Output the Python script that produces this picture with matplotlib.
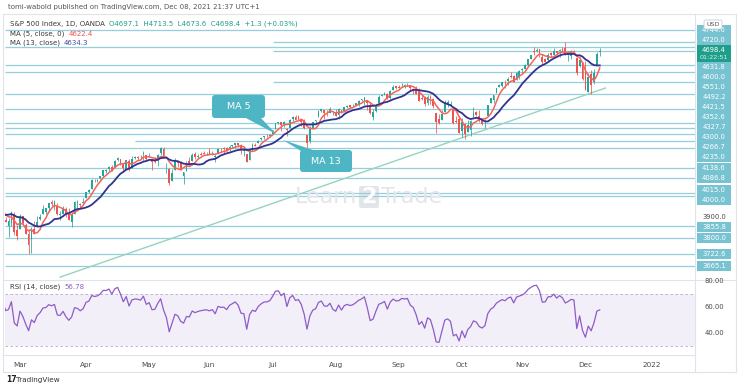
import numpy as np
import pandas as pd
import matplotlib
matplotlib.use("Agg")
import matplotlib.pyplot as plt
from matplotlib.patches import Rectangle, Polygon, FancyBboxPatch
from matplotlib.lines import Line2D
from matplotlib.transforms import IdentityTransform

# ---------------- data (SPX500 CFD, daily, weekdays) ----------------
start_date = "2021-01-04"
end_date = "2021-12-08"

opens = [
    # Jan
    3764.6, 3698.0, 3712.0, 3764.7, 3815.0, 3803.0, 3801.6, 3802.0, 3814.0, 3788.0,
    3768.0, 3781.9, 3816.2, 3857.5, 3844.2, 3851.7, 3862.96, 3836.8, 3755.8, 3778.1,
    # Feb
    3731.2, 3791.8, 3840.3, 3836.7, 3878.3, 3892.6, 3910.5, 3920.8, 3916.4, 3911.7,
    3935.0, 3939.6, 3918.5, 3915.9, 3921.2, 3885.6, 3857.1, 3873.7, 3915.8, 3839.7,
    # Mar
    3842.5, 3903.6, 3863.99, 3818.5, 3793.6, 3844.4, 3851.9, 3891.99, 3915.5, 3924.5,
    3942.96, 3973.6, 3949.6, 3953.5, 3913.1, 3916.5, 3937.6, 3919.9, 3879.3, 3917.1,
    3969.3, 3963.3, 3967.3,
    # Apr
    3992.8, 4020.0, 4034.4, 4075.6, 4074.3, 4089.95, 4096.1, 4124.7, 4130.1, 4141.6,
    4139.8, 4174.1, 4179.8, 4159.2, 4128.4, 4170.5, 4138.8, 4185.0, 4188.3, 4185.1,
    4206.1, 4198.1,
    # May
    4191.98, 4179.0, 4177.1, 4169.1, 4210.3, 4228.3, 4150.3, 4130.6, 4074.99, 4129.6,
    4169.9, 4165.9, 4098.5, 4121.97, 4168.6, 4170.2, 4205.9, 4191.6, 4201.9, 4210.8,
    4204.0,
    # Jun
    4216.5, 4206.8, 4191.4, 4206.1, 4229.3, 4233.8, 4232.99, 4228.6, 4242.9, 4248.3,
    4255.3, 4248.9, 4220.4, 4204.8, 4173.4, 4224.6, 4249.3, 4256.97, 4274.5, 4284.9,
    4293.2, 4290.7,
    # Jul
    4300.7, 4326.6, 4352.0, 4356.5, 4351.0, 4321.1, 4329.4, 4372.4, 4381.1, 4380.1,
    4369.0, 4367.4, 4296.4, 4265.1, 4331.1, 4361.3, 4381.2, 4409.6, 4416.4, 4402.95,
    4403.6, 4395.1,
    # Aug
    4406.9, 4392.7, 4415.95, 4408.9, 4429.1, 4437.8, 4435.8, 4442.2, 4446.1, 4464.8,
    4461.7, 4462.1, 4440.9, 4382.4, 4410.6, 4450.3, 4484.4, 4490.5, 4493.8, 4474.1,
    4513.8, 4529.8,
    # Sep
    4528.8, 4534.5, 4532.4, 4536.0, 4535.4, 4518.1, 4513.0, 4506.9, 4474.8, 4479.3,
    4447.5, 4477.1, 4469.7, 4402.95, 4374.5, 4367.4, 4406.8, 4438.0, 4442.1, 4419.5,
    4362.4, 4370.7,
    # Oct
    4317.2, 4348.8, 4309.9, 4319.6, 4383.7, 4406.5, 4385.4, 4368.3, 4358.0, 4386.8,
    4447.7, 4463.7, 4497.3, 4524.4, 4532.2, 4546.1, 4553.7, 4578.7, 4580.2, 4562.8,
    4572.9,
    # Nov
    4610.6, 4613.3, 4630.7, 4662.9, 4699.3, 4701.5, 4707.3, 4670.3, 4659.4, 4655.2,
    4689.3, 4679.4, 4701.5, 4700.7, 4708.4, 4712.0, 4678.5, 4675.8, 4701.0, 4664.6,
    4628.8, 4640.2,
    # Dec
    4602.8, 4504.7, 4589.5, 4548.4, 4631.97, 4697.1,
]

highs = [
    3769.99, 3737.8, 3783.0, 3811.6, 3826.7, 3817.9, 3810.8, 3820.96, 3823.6, 3788.0,
    3790.0, 3804.5, 3859.8, 3861.5, 3852.3, 3859.2, 3870.9, 3836.8, 3830.5, 3778.1,
    3784.3, 3843.1, 3847.5, 3872.4, 3894.6, 3915.8, 3918.4, 3931.5, 3925.99, 3937.2,
    3950.4, 3950.4, 3933.6, 3921.98, 3930.4, 3902.9, 3895.98, 3928.7, 3925.02, 3861.1,
    3914.5, 3906.4, 3874.5, 3843.7, 3851.7, 3881.1, 3903.8, 3917.4, 3960.3, 3944.99,
    3970.1, 3981.04, 3983.9, 3969.6, 3930.1, 3955.3, 3949.1, 3942.1, 3919.5, 3978.2,
    3981.8, 3968.0, 3994.4,
    4020.6, 4035.0, 4083.4, 4086.2, 4083.1, 4098.2, 4129.5, 4131.8, 4148.0, 4151.7,
    4173.5, 4191.3, 4180.8, 4159.2, 4175.0, 4179.6, 4194.2, 4194.2, 4193.4, 4201.5,
    4218.8, 4198.1,
    4209.4, 4179.0, 4187.7, 4202.7, 4238.0, 4236.4, 4162.0, 4134.7, 4131.6, 4183.1,
    4171.9, 4169.1, 4116.9, 4172.8, 4188.7, 4209.5, 4213.4, 4202.6, 4213.4, 4218.4,
    4212.0,
    4234.1, 4217.4, 4204.4, 4233.5, 4232.3, 4236.7, 4237.1, 4249.7, 4248.4, 4255.6,
    4257.2, 4251.9, 4232.3, 4204.8, 4226.2, 4255.8, 4256.6, 4271.3, 4286.1, 4292.1,
    4300.5, 4302.4,
    4320.7, 4355.4, 4360.0, 4356.5, 4361.9, 4330.9, 4372.0, 4386.7, 4393.7, 4393.2,
    4369.0, 4375.1, 4296.4, 4336.8, 4359.7, 4369.9, 4415.2, 4422.7, 4416.4, 4415.5,
    4429.97, 4412.3,
    4422.2, 4423.8, 4416.2, 4429.8, 4440.8, 4439.4, 4445.2, 4449.4, 4461.8, 4468.4,
    4480.3, 4462.1, 4454.3, 4418.6, 4444.4, 4489.9, 4492.8, 4501.7, 4495.9, 4513.3,
    4537.4, 4531.4,
    4537.1, 4545.9, 4541.5, 4545.0, 4535.4, 4521.8, 4529.9, 4520.5, 4492.99, 4485.7,
    4486.9, 4485.9, 4471.5, 4402.95, 4394.9, 4416.8, 4465.4, 4463.1, 4457.3, 4419.5,
    4385.6, 4382.6,
    4375.2, 4355.5, 4369.2, 4365.6, 4429.97, 4412.0, 4415.9, 4374.9, 4372.9, 4439.7,
    4475.8, 4488.8, 4520.4, 4540.9, 4551.4, 4559.7, 4572.6, 4598.5, 4584.6, 4597.6,
    4608.1,
    4620.3, 4635.2, 4663.5, 4683.0, 4718.5, 4714.9, 4708.5, 4684.9, 4664.6, 4688.5,
    4697.4, 4714.95, 4701.5, 4708.8, 4717.8, 4743.8, 4699.4, 4702.9, 4707.0, 4664.6,
    4672.95, 4646.0,
    4652.9, 4595.5, 4608.0, 4612.6, 4694.0, 4713.5,
]

lows = [
    3662.7, 3695.1, 3705.3, 3764.7, 3783.6, 3789.0, 3776.5, 3791.5, 3792.9, 3749.6,
    3765.0, 3780.4, 3816.2, 3845.1, 3830.4, 3797.2, 3847.8, 3732.5, 3755.8, 3694.1,
    3725.6, 3791.8, 3816.7, 3836.7, 3874.9, 3892.6, 3902.6, 3884.9, 3890.4, 3905.8,
    3931.0, 3923.9, 3900.4, 3885.03, 3903.1, 3874.7, 3805.6, 3859.6, 3814.04, 3789.5,
    3842.5, 3868.6, 3818.9, 3723.3, 3730.2, 3819.3, 3851.9, 3885.7, 3915.5, 3915.2,
    3923.5, 3953.4, 3935.7, 3910.9, 3886.8, 3914.2, 3901.6, 3889.1, 3853.5, 3917.1,
    3943.3, 3944.4, 3966.98,
    3992.8, 4015.0, 4034.4, 4068.1, 4068.3, 4082.5, 4095.5, 4114.8, 4124.4, 4120.9,
    4139.8, 4170.8, 4150.5, 4118.4, 4126.4, 4123.7, 4138.8, 4182.4, 4176.2, 4181.8,
    4176.8, 4174.9,
    4188.0, 4128.6, 4158.9, 4147.3, 4201.6, 4188.1, 4111.5, 4056.9, 4074.99, 4129.6,
    4142.7, 4125.99, 4061.4, 4121.97, 4151.7, 4170.2, 4182.5, 4184.1, 4197.8, 4203.6,
    4198.0,
    4197.6, 4198.3, 4167.9, 4206.1, 4215.7, 4208.4, 4218.7, 4220.3, 4232.99, 4234.1,
    4238.4, 4202.5, 4196.1, 4164.4, 4173.4, 4217.3, 4241.4, 4256.97, 4271.2, 4274.7,
    4287.0, 4287.96,
    4300.7, 4326.6, 4348.0, 4314.4, 4335.3, 4289.4, 4329.2, 4364.0, 4368.3, 4366.9,
    4340.7, 4322.5, 4233.1, 4259.2, 4331.1, 4350.1, 4381.2, 4405.5, 4372.5, 4387.0,
    4403.6, 4389.7,
    4384.8, 4373.0, 4400.2, 4408.9, 4424.2, 4424.7, 4430.0, 4436.4, 4435.5, 4460.8,
    4437.7, 4417.8, 4397.6, 4367.7, 4406.8, 4450.3, 4482.3, 4485.9, 4468.99, 4469.9,
    4513.8, 4515.8,
    4522.0, 4524.7, 4521.9, 4530.0, 4513.0, 4493.95, 4492.1, 4457.7, 4462.0, 4435.5,
    4438.4, 4443.8, 4427.8, 4305.9, 4347.96, 4367.4, 4406.8, 4430.3, 4436.2, 4346.3,
    4355.1, 4306.2,
    4288.5, 4278.9, 4309.9, 4290.5, 4383.7, 4386.2, 4360.6, 4342.1, 4329.9, 4386.8,
    4447.7, 4447.5, 4496.4, 4524.4, 4526.9, 4524.0, 4537.4, 4569.2, 4551.7, 4562.8,
    4567.6,
    4595.1, 4613.3, 4621.2, 4662.6, 4681.3, 4694.4, 4670.9, 4630.9, 4648.3, 4650.4,
    4672.9, 4679.4, 4684.4, 4672.8, 4694.2, 4682.2, 4652.7, 4659.9, 4695.0, 4585.4,
    4625.3, 4560.0,
    4510.3, 4504.7, 4495.1, 4540.5, 4631.97, 4673.6,
]

closes = [
    3700.7, 3726.9, 3748.1, 3803.8, 3824.7, 3799.6, 3801.2, 3809.8, 3795.5, 3768.3,
    3782.0, 3798.9, 3851.9, 3853.1, 3841.5, 3855.4, 3849.6, 3750.8, 3787.4, 3714.2,
    3773.9, 3826.3, 3830.2, 3871.7, 3886.8, 3915.6, 3911.2, 3909.9, 3916.4, 3934.8,
    3944.0, 3932.6, 3931.3, 3913.97, 3906.7, 3876.5, 3881.4, 3925.4, 3829.3, 3811.2,
    3901.8, 3870.3, 3819.7, 3768.5, 3841.9, 3821.4, 3875.4, 3898.8, 3939.3, 3943.3,
    3968.9, 3962.7, 3974.1, 3915.5, 3913.1, 3940.6, 3910.5, 3889.1, 3909.5, 3974.5,
    3971.1, 3958.6, 3972.9,
    4019.9, 4030.0, 4077.9, 4073.9, 4079.9, 4097.2, 4128.8, 4127.99, 4141.6, 4124.7,
    4170.4, 4185.5, 4163.3, 4134.9, 4173.4, 4134.98, 4180.2, 4187.6, 4186.7, 4183.2,
    4211.5, 4181.2,
    4192.7, 4164.7, 4167.6, 4201.6, 4232.6, 4188.4, 4152.1, 4063.0, 4112.5, 4173.9,
    4163.3, 4127.8, 4115.7, 4159.1, 4155.9, 4197.1, 4188.1, 4195.99, 4200.9, 4204.1,
    4206.0,
    4202.0, 4208.1, 4192.9, 4229.9, 4226.5, 4227.3, 4219.6, 4239.2, 4247.4, 4255.2,
    4246.6, 4223.7, 4221.9, 4166.5, 4224.8, 4246.4, 4241.8, 4266.5, 4280.7, 4290.6,
    4291.8, 4297.5,
    4319.9, 4352.3, 4356.0, 4343.5, 4358.1, 4320.8, 4369.6, 4384.6, 4369.2, 4374.3,
    4360.0, 4327.2, 4258.5, 4323.1, 4358.7, 4367.5, 4411.8, 4422.3, 4401.5, 4400.6,
    4419.2, 4395.3,
    4387.2, 4423.2, 4402.7, 4429.1, 4436.5, 4432.4, 4436.8, 4447.7, 4460.8, 4468.0,
    4479.7, 4448.1, 4400.3, 4405.8, 4441.7, 4479.5, 4486.2, 4496.2, 4470.0, 4509.4,
    4528.8, 4522.7,
    4524.1, 4537.0, 4535.4, 4538.0, 4520.0, 4514.1, 4493.3, 4458.6, 4468.7, 4443.1,
    4480.7, 4473.8, 4432.99, 4357.7, 4354.2, 4395.6, 4448.98, 4455.5, 4443.1, 4352.6,
    4359.5, 4307.5,
    4357.0, 4300.5, 4345.7, 4363.6, 4399.8, 4391.3, 4361.2, 4350.7, 4363.8, 4438.3,
    4471.4, 4486.5, 4519.6, 4536.2, 4549.8, 4544.9, 4566.5, 4574.8, 4551.7, 4596.4,
    4605.4,
    4613.7, 4630.7, 4660.6, 4680.1, 4697.5, 4701.7, 4685.3, 4646.7, 4649.3, 4682.9,
    4682.8, 4700.9, 4688.7, 4704.5, 4697.96, 4682.9, 4690.7, 4701.5, 4700.0, 4594.6,
    4655.3, 4567.0,
    4513.0, 4577.1, 4538.4, 4591.7, 4686.8, 4698.4,
]

# horizontal support / resistance levels drawn on the chart (price, start date)
level_prices = [4802.0, 4744.6, 4720.0, 4698.4, 4631.8, 4600.0, 4551.0, 4492.2,
                4421.5, 4352.6, 4327.7, 4300.0, 4266.7, 4235.0, 4138.6, 4086.8,
                4015.0, 4000.0, 3855.8, 3800.0, 3722.6, 3665.1]
level_starts = [None, "2021-07-01", None, "2021-07-01", None, None, "2021-07-01", None,
                None, None, None, None, "2021-04-26", None, None, None,
                None, None, None, None, None, None]
label_prices = [4744.6, 4720.0, 4631.8, 4600.0, 4551.0, 4492.2, 4421.5, 4352.6,
                4327.7, 4300.0, 4266.7, 4235.0, 4138.6, 4086.8, 4015.0, 4000.0,
                3855.8, 3800.0, 3722.6, 3665.1]
last_price = 4698.4
countdown = "01:22:51"
plain_ticks = [3900.0]

trend_dates = ["2021-03-19", "2021-12-10"]
trend_prices = [3612.0, 4522.0]

month_labels = ["Mar", "Apr", "May", "Jun", "Jul", "Aug", "Sep", "Oct", "Nov", "Dec", "2022"]
rsi_ticks = [80, 60, 40]

title_text = "tomi-wabold published on TradingView.com, Dec 08, 2021 21:37 UTC+1"
legend_name = "S&P 500 Index, 1D, OANDA"
legend_ohlc = "O4697.1  H4713.5  L4673.6  C4698.4  +1.3 (+0.03%)"
ma5_text, ma5_val = "MA (5, close, 0)", "4622.4"
ma13_text, ma13_val = "MA (13, close)", "4634.3"
rsi_text, rsi_val = "RSI (14, close)", "56.78"

# ---------------- styling ----------------
W, H = 740, 390
UP, DN = "#26a69a", "#ef5350"
MA5_C, MA13_C = "#f4645a", "#33338f"
LVL_C = "#94cfdb"
LBL_C = "#78c3d2"
RSI_C = "#8e5cc6"
BORDER = "#e0e3eb"

plt.rcParams["font.family"] = ["DejaVu Sans"]

fig = plt.figure(figsize=(W / 100, H / 100), dpi=100)
fig.patch.set_facecolor("white")


def fr(x0, y0, x1, y1):
    """pixel box (top-left origin) -> figure fraction rect"""
    return [x0 / W, 1 - y1 / H, (x1 - x0) / W, (y1 - y0) / H]


axis_dates = pd.bdate_range(start_date, "2022-02-28")
dates = pd.bdate_range(start_date, end_date)
n = len(dates)
assert n == len(opens) == len(highs) == len(lows) == len(closes)
pos = {d: i for i, d in enumerate(axis_dates)}

o = np.array(opens); h = np.array(highs); l = np.array(lows); c = np.array(closes)
x = np.arange(n)

mar1 = pos[pd.Timestamp("2021-03-01")]
px_per_bar = 2.87
xl0 = mar1 - (20 - 5) / px_per_bar
xl1 = mar1 + (695 - 20) / px_per_bar

ax = fig.add_axes(fr(5, 14, 695, 280))
rx = fig.add_axes(fr(5, 280, 695, 355), sharex=ax)
for a in (ax, rx):
    a.set_facecolor("none")
    for s in a.spines.values():
        s.set_visible(False)
    a.tick_params(left=False, right=False, bottom=False, top=False,
                  labelleft=False, labelbottom=False)

ax.set_xlim(xl0, xl1)
ax.set_ylim(3598, 4878)

# levels
for p, s in zip(level_prices, level_starts):
    xs = pos[pd.Timestamp(s)] if s else xl0
    ax.hlines(p, xs, xl1, color=LVL_C, lw=0.9, zorder=1)

# trend line
tx = [pos[pd.Timestamp(d)] for d in trend_dates]
ax.plot(tx, trend_prices, color="#98d2c2", lw=1.0, zorder=2)

# candles
up = c >= o
cols = np.where(up, UP, DN)
ax.vlines(x, l, h, colors=cols, lw=0.55, zorder=3)
body = np.maximum(np.abs(c - o), 1.5)
ax.bar(x, body, bottom=np.minimum(o, c), width=0.62, color=cols, lw=0, zorder=3)

# moving averages
cs = pd.Series(c)
ax.plot(x, cs.rolling(5).mean(), color=MA5_C, lw=1.1, zorder=4)
ax.plot(x, cs.rolling(13).mean(), color=MA13_C, lw=1.3, zorder=4)

# watermark  Learn[2]Trade
WM = "#e3e6e9"
fig.text(357 / W, 1 - 197 / H, "Learn", fontsize=16, color=WM, ha="right", va="center", zorder=0)
fig.add_artist(FancyBboxPatch((359, H - 208), 20, 22, boxstyle="round,pad=0,rounding_size=2",
                              transform=IdentityTransform(), fc=WM, ec="none", zorder=0))
fig.text(369 / W, 1 - 197 / H, "2", fontsize=16, color="white", ha="center", va="center",
         zorder=0, fontweight="bold")
fig.text(381 / W, 1 - 197 / H, "Trade", fontsize=16, color=WM, ha="left", va="center", zorder=0)

# RSI (Wilder)
d = cs.diff()
gain = d.clip(lower=0).ewm(alpha=1 / 14, adjust=False).mean()
loss = (-d.clip(upper=0)).ewm(alpha=1 / 14, adjust=False).mean()
rsi = 100 - 100 / (1 + gain / loss)
rx.set_ylim(23, 80.8)
rx.axhspan(30, 70, color="#7e57c2", alpha=0.09, lw=0)
for lv in (70, 30):
    rx.axhline(lv, color="#b8a6d6", lw=0.6, ls=(0, (3, 3)))
rx.plot(x, rsi, color=RSI_C, lw=0.9)

# month ticks
month_idx = []
seen = set()
for i, dt in enumerate(axis_dates):
    key = (dt.year, dt.month)
    if key not in seen:
        seen.add(key)
        if pd.Timestamp("2021-03-01") <= dt <= pd.Timestamp("2022-01-31"):
            month_idx.append(i)
for xi, lab in zip(month_idx, month_labels):
    rx.text(xi, -0.13, lab, transform=rx.get_xaxis_transform(), ha="center",
            va="center", fontsize=5.2, color="#4a4a4a")

# ---------------- frame ----------------
def fline(x0, y0, x1, y1, col=BORDER, lw=0.8):
    fig.add_artist(Line2D([x0 / W, x1 / W], [1 - y0 / H, 1 - y1 / H], color=col, lw=lw))

fline(3, 14, 736, 14); fline(3, 372, 736, 372)
fline(3, 14, 3, 372); fline(736, 14, 736, 372)
fline(3, 280, 736, 280); fline(3, 355, 695, 355)
fline(695, 14, 695, 372)

# ---------------- price axis labels ----------------
fig.canvas.draw()
items = []
for p in label_prices:
    items.append({"p": p, "y": ax.transData.transform((0, p))[1], "h": 5.0, "k": "lvl"})
for p in plain_ticks:
    items.append({"p": p, "y": ax.transData.transform((0, p))[1], "h": 5.0, "k": "tick"})
items.append({"p": last_price, "y": ax.transData.transform((0, last_price))[1] - 3,
              "h": 8.5, "k": "last"})
items.sort(key=lambda t: t["y"])
for _ in range(400):
    for i in range(len(items) - 1):
        a, b = items[i], items[i + 1]
        need = a["h"] + b["h"]
        gap = b["y"] - a["y"]
        if gap < need:
            dd = (need - gap) / 2
            a["y"] -= dd
            b["y"] += dd

for it in items:
    yc = it["y"]
    if it["k"] == "lvl":
        fig.add_artist(Rectangle((697, yc - 5), 34, 10, transform=IdentityTransform(),
                                 fc=LBL_C, ec="none"))
        fig.text(714 / W, yc / H, f"{it['p']:.1f}", ha="center", va="center",
                 fontsize=4.9, color="white")
    elif it["k"] == "tick":
        fig.text(714 / W, yc / H, f"{it['p']:.1f}", ha="center", va="center",
                 fontsize=4.9, color="#4a4a4a")
    else:
        fig.add_artist(Rectangle((697, yc - 8.5), 34, 17, transform=IdentityTransform(),
                                 fc="#1f9e8c", ec="none", zorder=5))
        fig.text(714 / W, (yc + 3.5) / H, f"{last_price:.1f}", ha="center", va="center",
                 fontsize=4.9, color="white", zorder=6)
        fig.text(714 / W, (yc - 4) / H, countdown, ha="center", va="center",
                 fontsize=4.6, color="#dff3ef", zorder=6)

# USD box
fig.add_artist(FancyBboxPatch((704, H - 29), 18, 9, boxstyle="round,pad=0,rounding_size=1.5",
                              transform=IdentityTransform(), fc="white", ec="#c8ccd4",
                              lw=0.6, zorder=7))
fig.text(713 / W, 1 - 24.5 / H, "USD", ha="center", va="center", fontsize=4.6,
         color="#555555", zorder=8)

# RSI axis labels
for v in rsi_ticks:
    yy = rx.transData.transform((0, v))[1]
    fig.text(714 / W, yy / H, f"{v:.2f}", ha="center", va="center", fontsize=4.9,
             color="#4a4a4a")

# ---------------- texts ----------------
fig.text(8 / W, 1 - 7 / H, title_text, fontsize=5, color="#555555", va="center")


def chain(first, parts, y):
    t = fig.text(10 / W, 1 - y / H, first[0], fontsize=5, color=first[1], va="center")
    for txt, col in parts:
        t = ax.annotate(txt, xy=(1, 0.5), xycoords=t, xytext=(3, 0),
                        textcoords="offset points", va="center", ha="left",
                        fontsize=5, color=col, annotation_clip=False)
    return t


chain((legend_name, "#3a3a3a"), [(legend_ohlc, "#1f9e8c")], 24)
chain((ma5_text, "#3a3a3a"), [(ma5_val, "#ef5350")], 33.5)
chain((ma13_text, "#3a3a3a"), [(ma13_val, "#4a4aa8")], 43)
chain((rsi_text, "#3a3a3a"), [(rsi_val, RSI_C)], 287)

# TradingView logo
fig.text(6 / W, 1 - 380 / H, "17", fontsize=5.5, color="#222222", va="center",
         fontweight="bold")
fig.text(16 / W, 1 - 380 / H, "TradingView", fontsize=5.2, color="#333333", va="center")

# ---------------- callouts ----------------
CALL = "#4db5c3"


def callout(x0, y0, x1, y1, poly, label):
    fig.add_artist(Polygon([(px, H - py) for px, py in poly], closed=True,
                           transform=IdentityTransform(), fc=CALL, ec="none", zorder=9))
    fig.add_artist(FancyBboxPatch((x0, H - y1), x1 - x0, y1 - y0,
                                  boxstyle="round,pad=0,rounding_size=3",
                                  transform=IdentityTransform(), fc=CALL, ec="none",
                                  zorder=9))
    fig.text((x0 + x1) / 2 / W, 1 - (y0 + y1) / 2 / H, label, ha="center", va="center",
             fontsize=6.8, color="white", zorder=10)


callout(212, 95, 265, 118, [(244, 117), (260, 117), (276, 134)], "MA 5")
callout(300, 150, 352, 172, [(301, 151), (316, 151), (283, 140)], "MA 13")

fig.savefig("out.png", dpi=100, facecolor="white")
